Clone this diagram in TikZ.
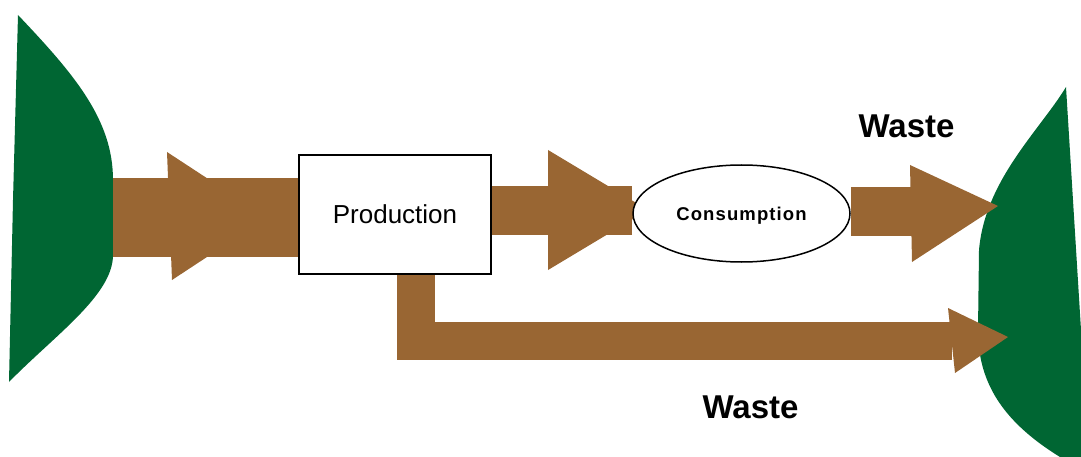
\documentclass[tikz,border=0pt]{standalone}
\usepackage{fontspec}
\setmainfont{Liberation Sans}
\usetikzlibrary{shapes.geometric}
\definecolor{brownflow}{RGB}{153,102,51}
\definecolor{earth}{RGB}{0,102,51}
\pgfdeclarelayer{background}
\pgfsetlayers{background,main}
\begin{document}
\begin{tikzpicture}[x=1pt,y=-1pt,
  flow/.style={fill=brownflow, draw=none},
  shaft/.style={draw=brownflow, line cap=butt, line join=miter},
  land/.style={fill=earth, draw=none},
  lbl/.style={font=\fontsize{33}{33}\selectfont\bfseries, anchor=base, inner sep=0pt},
  procbox/.style={draw=black, line width=1.5pt, fill=white, minimum width=192pt, minimum height=119pt, inner sep=0pt, text depth=0pt, font=\fontsize{26}{26}\selectfont},
  consell/.style={ellipse, draw=black, line width=1.5pt, fill=white, minimum width=217pt, minimum height=97pt, inner sep=0pt, text depth=0pt, font=\fontsize{18.5}{18.5}\selectfont\bfseries\addfontfeature{LetterSpace=6}}]
\useasboundingbox (0,0) rectangle (1081,457);

\node[procbox] (prod) at (395,214.5) {Production};
\node[consell] (cons) at (741.5,213.5) {Consumption};

\node[lbl] (wtop) at (906.5,138) {Waste};
\node[lbl] (wbot) at (750.5,418) {Waste};

\begin{pgfonlayer}{background}
  % land masses
  \fill[land] (18,15) .. controls (75,75) and (113,120) .. (113,180) -- (113,255)
     .. controls (113,295) and (55,335) .. (9,382) -- (13,200) -- cycle;
  \fill[land] (1066,87) -- (1081,330) -- (1081,457) -- (1060,457)
     .. controls (1000,420) and (978,380) .. (978,330) -- (979,250)
     .. controls (985,180) and (1040,130) .. (1066,87) -- cycle;

  % resource inflow
  \coordinate (srcL) at (113,217.5);
  \draw[shaft, line width=79pt] (srcL) -- (srcL -| prod.west);
  \fill[flow] (167,152) -- (267,217.5) -- (172,280) -- cycle;

  % production -> consumption
  \coordinate (midL) at (prod.east |- 0,210.5);
  \draw[shaft, line width=49pt] (midL) -- (midL -| cons.west);
  \fill[flow] (548,150) -- (648,210) -- (548,270) -- cycle;

  % consumption -> waste
  \coordinate (endR) at (915,211.5);
  \draw[shaft, line width=49pt] (cons.east |- endR) -- (endR);
  \fill[flow] (910,165) -- (998,206) -- (912,262) -- cycle;

  % production -> waste
  \coordinate (endB) at (952,341);
  \draw[shaft, line width=38pt] (prod.south -| 416,0) -- (416,341) -- (endB);
  \fill[flow] (948,308) -- (1008,337) -- (955,373) -- cycle;
\end{pgfonlayer}
\end{tikzpicture}
\end{document}
